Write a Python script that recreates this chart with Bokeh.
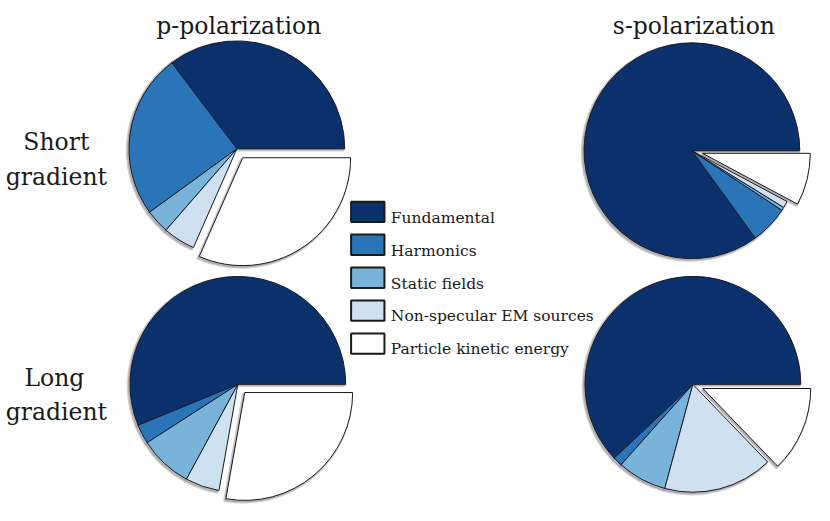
import math
from bokeh.plotting import figure
from bokeh.models import Range1d, ColumnDataSource
from bokeh.core.properties import value
from bokeh.embed import file_html
from bokeh.resources import INLINE

categories = ["Fundamental", "Harmonics", "Static fields",
              "Non-specular EM sources", "Particle kinetic energy"]
colors = ["#0b316c", "#2a74b8", "#78b3da", "#cfe0f1", "#ffffff"]

p_short = [35.3, 24.7, 3.6, 4.8, 31.6]
s_short = [85.0, 5.7, 0.5, 1.0, 7.8]
p_long = [56.2, 2.9, 8.0, 5.1, 27.8]
s_long = [62.0, 1.4, 7.4, 16.4, 12.8]

col_titles = ["p-polarization", "s-polarization"]
row_titles = [["Short", "gradient"], ["Long", "gradient"]]

# canvas in pixels; data space uses the 830x521 reference frame
W, H = 814, 505
p = figure(width=W, height=H, output_backend="svg", toolbar_location=None,
           x_range=Range1d(0, 830), y_range=Range1d(0, 521), min_border=0)
p.axis.visible = False
p.grid.visible = False
p.outline_line_color = None

R = 110
EXPLODE = 11
FONT = "DejaVu Serif"


def draw_pie(vals, cx, cy):
    total = sum(vals)
    starts, ends, xs, ys = [], [], [], []
    acc = 0.0
    for i, v in enumerate(vals):
        a0 = 2 * math.pi * acc / total
        acc += v
        a1 = 2 * math.pi * acc / total
        starts.append(a0)
        ends.append(a1)
        if i == len(vals) - 1:
            mid = (a0 + a1) / 2
            xs.append(cx + EXPLODE * math.cos(mid))
            ys.append(cy + EXPLODE * math.sin(mid))
        else:
            xs.append(cx)
            ys.append(cy)
    src = ColumnDataSource(dict(x=xs, y=ys, s=starts, e=ends, c=colors))
    shadow = ColumnDataSource(dict(x=[x - 1.5 for x in xs], y=[y - 1.5 for y in ys],
                                   s=starts, e=ends))
    p.wedge(x="x", y="y", radius=R + 0.5, start_angle="s", end_angle="e",
            source=shadow, fill_color="#8a8a8a", fill_alpha=0.6,
            line_color="#a0a0a0", line_alpha=0.5, line_width=2.5)
    p.wedge(x="x", y="y", radius=R, start_angle="s", end_angle="e",
            source=src, fill_color="c", line_color="#1a1a2a", line_width=1)


draw_pie(p_short, 241, 368)
draw_pie(s_short, 705, 366)
draw_pie(p_long, 242, 125)
draw_pie(s_long, 706, 125)

# column titles
p.text(x=[243, 707], y=[495, 495], text=col_titles, text_font=value(FONT),
       text_font_size="23.5px", text_align="center", text_baseline="alphabetic",
       text_color="#1a1a1a")

# row titles
p.text(x=[57, 57], y=[375, 339], text=row_titles[0], text_font=value(FONT),
       text_font_size="23.5px", text_align="center", text_baseline="alphabetic",
       text_color="#1a1a1a")
p.text(x=[55, 57], y=[132, 96], text=row_titles[1], text_font=value(FONT),
       text_font_size="23.5px", text_align="center", text_baseline="alphabetic",
       text_color="#1a1a1a")

# legend
n = len(categories)
ly = [303 - 34 * i for i in range(n)]
p.rect(x=[374.5] * n, y=ly, width=34, height=21,
       fill_color=colors, line_color="#1a1a1a", line_width=2)
p.text(x=[398] * n, y=[v - 6 for v in ly], text=categories, text_font=value(FONT),
       text_font_size="15.5px", text_align="left", text_baseline="alphabetic",
       text_color="#1a1a1a")

open("out.html", "w").write(file_html(p, INLINE))
